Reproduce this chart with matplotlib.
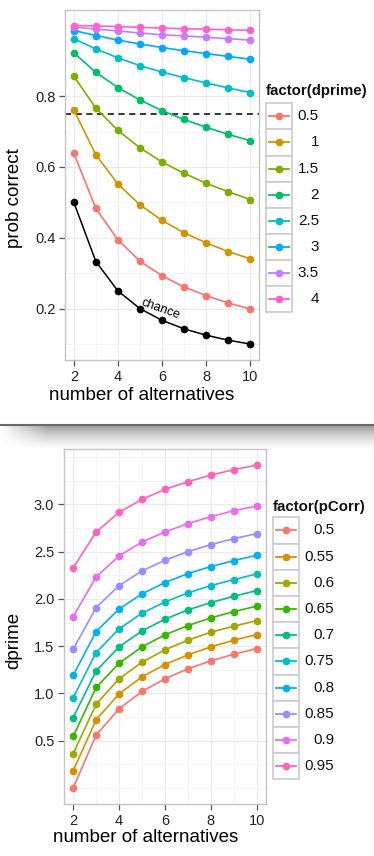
import matplotlib
matplotlib.use("Agg")
import matplotlib.pyplot as plt
from matplotlib.patches import Rectangle
from matplotlib.lines import Line2D
import numpy as np

plt.rcParams['font.family'] = ['Liberation Sans', 'DejaVu Sans']

# ---- data ----
alternatives = [2, 3, 4, 5, 6, 7, 8, 9, 10]

chance = [0.5, 0.333, 0.25, 0.2, 0.167, 0.143, 0.125, 0.111, 0.1]

dprime_levels = ['0.5', '1', '1.5', '2', '2.5', '3', '3.5', '4']
pc_05 = [0.639, 0.483, 0.394, 0.334, 0.293, 0.261, 0.237, 0.216, 0.199]
pc_10 = [0.761, 0.634, 0.552, 0.493, 0.449, 0.414, 0.386, 0.361, 0.341]
pc_15 = [0.856, 0.766, 0.703, 0.654, 0.614, 0.582, 0.554, 0.530, 0.508]
pc_20 = [0.922, 0.867, 0.824, 0.789, 0.759, 0.734, 0.712, 0.692, 0.674]
pc_25 = [0.962, 0.933, 0.908, 0.886, 0.868, 0.852, 0.837, 0.823, 0.810]
pc_30 = [0.985, 0.971, 0.958, 0.947, 0.937, 0.928, 0.920, 0.912, 0.904]
pc_35 = [0.995, 0.989, 0.984, 0.978, 0.973, 0.970, 0.966, 0.962, 0.958]
pc_40 = [0.999, 0.998, 0.996, 0.994, 0.992, 0.990, 0.989, 0.987, 0.986]
pc_series = [pc_05, pc_10, pc_15, pc_20, pc_25, pc_30, pc_35, pc_40]

pcorr_levels = ['0.5', '0.55', '0.6', '0.65', '0.7', '0.75', '0.8', '0.85', '0.9', '0.95']
dp_50 = [0.0, 0.560, 0.838, 1.021, 1.155, 1.261, 1.345, 1.415, 1.475]
dp_55 = [0.183, 0.722, 0.996, 1.176, 1.306, 1.408, 1.493, 1.563, 1.623]
dp_60 = [0.363, 0.887, 1.155, 1.331, 1.461, 1.563, 1.648, 1.711, 1.771]
dp_65 = [0.546, 1.063, 1.320, 1.493, 1.620, 1.718, 1.799, 1.866, 1.923]
dp_70 = [0.743, 1.239, 1.493, 1.662, 1.785, 1.884, 1.961, 2.028, 2.088]
dp_75 = [0.954, 1.433, 1.683, 1.849, 1.968, 2.063, 2.141, 2.204, 2.264]
dp_80 = [1.190, 1.655, 1.894, 2.053, 2.173, 2.268, 2.342, 2.405, 2.461]
dp_85 = [1.468, 1.908, 2.141, 2.296, 2.408, 2.500, 2.574, 2.637, 2.690]
dp_90 = [1.813, 2.232, 2.454, 2.602, 2.708, 2.796, 2.870, 2.933, 2.982]
dp_95 = [2.327, 2.708, 2.915, 3.053, 3.158, 3.239, 3.310, 3.366, 3.415]
dp_series = [dp_50, dp_55, dp_60, dp_65, dp_70, dp_75, dp_80, dp_85, dp_90, dp_95]

colors8 = ["#F8766D", "#CD9600", "#7CAE00", "#00BE67", "#00BFC4", "#00A9FF", "#C77CFF", "#FF61CC"]
colors10 = ["#F8766D", "#D89000", "#A3A500", "#39B600", "#00BF7D", "#00BFC4", "#00B0F6", "#9590FF", "#E76BF3", "#FF62BC"]

W, H = 374, 856
fig = plt.figure(figsize=(W / 100, H / 100), dpi=100)


def box(l, t, r, b):
    return [l / W, 1 - b / H, (r - l) / W, (b - t) / H]


def ftext(x, y, s, **kw):
    return fig.text(x / W, 1 - y / H, s, **kw)


def style_axes(ax, yticks, yminor, ylim):
    ax.set_xlim(1.6, 10.4)
    ax.set_ylim(*ylim)
    ax.set_xticks([2, 4, 6, 8, 10])
    ax.set_xticks([3, 5, 7, 9], minor=True)
    ax.set_yticks(yticks)
    ax.set_yticks(yminor, minor=True)
    ax.grid(True, which='major', color='#ebebeb', lw=0.9, zorder=0)
    ax.grid(True, which='minor', color='#f5f5f5', lw=0.7, zorder=0)
    ax.set_axisbelow(True)
    for s in ax.spines.values():
        s.set_color('#c4c4c4')
        s.set_linewidth(1.0)
    ax.tick_params(which='major', length=4, width=0.9, color='#555555',
                   labelsize=10.5, labelcolor='#222222', pad=3)
    ax.tick_params(which='minor', length=0)


def draw_legend(title, labels, colors, left, title_y, top, step, label_x):
    ftext(left, title_y, title, fontsize=10.8, fontweight='bold',
          ha='left', va='center', color='#111111')
    for i, (lab, c) in enumerate(zip(labels, colors)):
        y0 = top + i * step
        fig.patches.append(Rectangle((left / W, 1 - (y0 + step) / H), 26 / W, step / H,
                                     transform=fig.transFigure, facecolor='white',
                                     edgecolor='#cccccc', lw=1.2))
        yc = 1 - (y0 + step / 2) / H
        fig.lines.append(Line2D([(left + 3) / W, (left + 23) / W], [yc, yc],
                                transform=fig.transFigure, color=c, lw=1.3))
        fig.lines.append(Line2D([(left + 13) / W], [yc], transform=fig.transFigure,
                                marker='o', ms=4.5, color=c, mec=c))
        fig.text(label_x / W, yc, lab, fontsize=11, ha='right', va='center', color='#111111')


# ---- top panel ----
ax1 = fig.add_axes(box(65, 10, 259, 360))
style_axes(ax1, [0.2, 0.4, 0.6, 0.8], [0.1, 0.3, 0.5, 0.7, 0.9, 1.0], (0.055, 1.043))
ax1.axhline(0.75, color='black', ls=(0, (4, 3)), lw=1.1, zorder=2)
ax1.plot(alternatives, chance, color='black', marker='o', ms=4.5, lw=1.1, zorder=3)
for ys, c in zip(pc_series, colors8):
    ax1.plot(alternatives, ys, color=c, marker='o', ms=4.5, lw=1.2, zorder=3)
ax1.text(5.95, 0.2, 'chance', rotation=-20, ha='center', va='center', fontsize=9, zorder=4)
ftext(142, 396, 'number of alternatives', fontsize=13.5, ha='center', va='center')
ftext(15, 198, 'prob correct', fontsize=13.5, ha='center', va='center', rotation=90)
draw_legend('factor(dprime)', dprime_levels, colors8, 266, 91, 103.3, 26.1, 319)

# ---- separator (screenshot edge with shadow) ----
sep = fig.add_axes(box(0, 426, W, 452))
sep.set_axis_off()
v = np.linspace(0, 1, 40)[:, None]
h = np.linspace(0, 1, 200)[None, :]
fade_h = np.clip(h * 200 / 25, 0, 1)
shade = 1 - 0.38 * (1 - v) ** 1.6 * fade_h
sep.imshow(shade, cmap='gray', vmin=0, vmax=1, aspect='auto', extent=(0, 1, 0, 1))
fig.lines.append(Line2D([0, 1], [1 - 425 / H, 1 - 425 / H], transform=fig.transFigure,
                        color='#6a6a6a', lw=1.5))

# ---- bottom panel ----
ax2 = fig.add_axes(box(64, 449, 266, 804))
style_axes(ax2, [0.5, 1.0, 1.5, 2.0, 2.5, 3.0],
           [0.0, 0.25, 0.75, 1.25, 1.75, 2.25, 2.75, 3.25, 3.5], (-0.169, 3.585))
for ys, c in zip(dp_series, colors10):
    ax2.plot(alternatives, ys, color=c, marker='o', ms=4.5, lw=1.2, zorder=3)
ftext(146, 838, 'number of alternatives', fontsize=13.5, ha='center', va='center')
ftext(14, 640, 'dprime', fontsize=13.5, ha='center', va='center', rotation=90)
draw_legend('factor(pCorr)', pcorr_levels, colors10, 273, 506.7, 517.3, 26.2, 334)

fig.savefig('out.png', dpi=100)
